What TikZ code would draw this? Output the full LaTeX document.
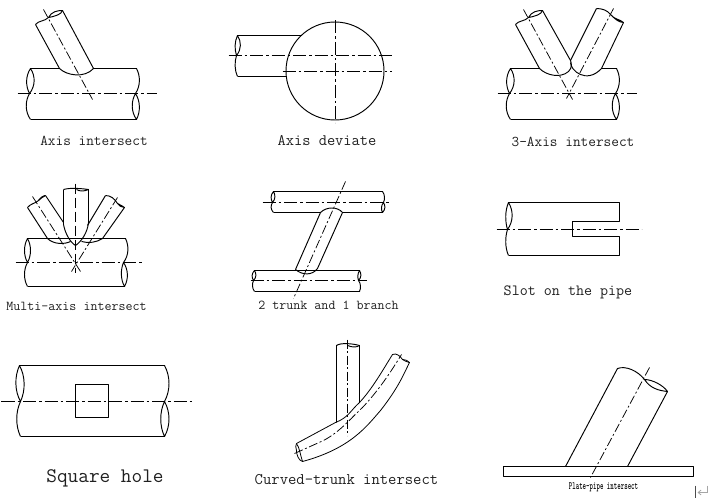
\documentclass[tikz,border=0pt]{standalone}
\usepackage{graphicx}
\usetikzlibrary{arrows.meta}
\definecolor{lbl}{HTML}{202020}
\tikzset{
  ln/.style={draw=black,line width=0.95pt,line join=round},
  thin ln/.style={draw=black,line width=0.8pt,line join=round},
  axis/.style={draw=black,line width=0.8pt,dash pattern=on 13pt off 3pt on 2.5pt off 3pt},
  axis short/.style={draw=black,line width=0.75pt,dash pattern=on 9pt off 2.5pt on 2pt off 2.5pt},
  axis long/.style={draw=black,line width=0.8pt,dash pattern=on 10pt off 4pt},
  caption/.style={text=lbl,inner sep=0pt,font=\fontsize{#1}{#1}\selectfont\ttfamily}
}
% lens between (#1,#2) and (#3,#4), control abscissae #5 and #6
\newcommand\plens[6]{\draw[ln] (#1,#2) .. controls (#5,{#2+(#4-#2)*0.3}) and (#5,{#2+(#4-#2)*0.7}) .. (#3,#4)
   .. controls (#6,{#2+(#4-#2)*0.7}) and (#6,{#2+(#4-#2)*0.3}) .. cycle;}
\newcommand\pbow[5]{\draw[ln] (#1,#2) .. controls (#5,{#2+(#4-#2)*0.3}) and (#5,{#2+(#4-#2)*0.7}) .. (#3,#4);}
% the trunk shared by the first and third drawings
\newcommand\trunkA{%
  \plens{30}{68}{29}{93}{25}{35}
  \pbow{29}{93}{30}{119}{24.5}
  \pbow{136}{68}{135}{93}{140}
  \plens{135}{93}{136}{119}{130.5}{140}
  \draw[ln] (30,119) -- (136,119);
  \draw[axis] (17,93) -- (156,93);
}
\begin{document}
\begin{tikzpicture}[x=1pt,y=-1pt]
\useasboundingbox (-0.5,-0.5) rectangle (717.5,502.5);

% 1 Axis intersect
\begin{scope}
  \trunkA
  \draw[ln] (30,68) -- (59,68) (93,68) -- (136,68);
  \draw[ln] (35,24) -- (59,68) .. controls (66,75) and (84,78) .. (93,68) -- (62,10);
  \draw[ln] (35,24) .. controls (38,20) and (44,21) .. (48,17);
  \draw[ln] (48,17) .. controls (51,11) and (57,10) .. (62,10) .. controls (61,14) and (54,16) .. cycle;
  \draw[axis short] (43,9) -- (92,99);
\end{scope}
\node[caption=14.9] (t1) at (93.5,140) {Axis intersect};

% 2 Axis deviate
\draw[ln] (334.5,70.5) circle (49);
\draw[ln] (301,35) -- (237,35) (286,76) -- (237,76);
\plens{237}{35}{236}{55}{234}{241}
\pbow{236}{55}{237}{76}{234}
\draw[axis] (228,55) -- (394,55);
\draw[axis] (282,71) -- (391,71);
\draw[axis] (334.5,20) -- (334.5,122);
\node[caption=16] (t2) at (326.5,140) {Axis deviate};

% 3 3-Axis intersect
\begin{scope}[xshift=480pt]
  \trunkA
  \draw[ln] (30,68) -- (59,68) (121,68) -- (136,68);
  \draw[ln] (35,24) -- (59,68) .. controls (66,75) and (80,78) .. (88,71) .. controls (92,67) and (91,63) .. (90,60) -- (62,10);
  \draw[ln] (35,24) .. controls (38,20) and (44,21) .. (48,17);
  \draw[ln] (48,17) .. controls (51,11) and (57,10) .. (62,10) .. controls (61,14) and (54,16) .. cycle;
  \draw[ln] (116,8) -- (90,60) (90,62) .. controls (90,70) and (106,84) .. (121,68) -- (143,22);
  \draw[ln] (116,8) .. controls (122,8) and (127,10) .. (130,14);
  \draw[ln] (130,14) .. controls (134,19) and (140,19) .. (143,22) .. controls (138,22) and (134,18) .. cycle;
  \draw[axis short] (43,9) -- (92,99);
  \draw[axis short] (133,8) -- (86,98);
\end{scope}
\node[caption=14.9] (t3) at (572.5,141) {3-Axis intersect};

% 4 Multi-axis intersect
\plens{27}{238}{27}{262}{23}{31}
\pbow{27}{262}{27}{286}{23}
\pbow{125}{238}{123}{262}{128.5}
\plens{123}{262}{124}{286}{120}{128}
\draw[ln] (27,238) -- (125,238);
\draw[ln] (27,286) -- (124,286);
\draw[axis] (15,262) -- (143,262);
\draw[ln] (27,207) -- (47,238) .. controls (53,244) and (64,244) .. (70,241);
\draw[ln] (45,195) -- (63,222);
\draw[ln] (27,207) .. controls (30,203) and (35,203) .. (38,200) .. controls (40,197) and (43,195) .. (45,195);
\draw[ln] (38,200) .. controls (40,197) and (43,197) .. (45,195);
\draw[ln] (124,207) -- (102,238) .. controls (96,242) and (88,243) .. (81,241);
\draw[ln] (105,195) -- (87,225);
\draw[ln] (105,195) .. controls (110,195) and (114,198) .. (117,203);
\draw[ln] (117,203) .. controls (120,205) and (122,205) .. (124,207) .. controls (121,207) and (118,205) .. cycle;
\draw[ln] (63,189) -- (63,224) .. controls (65,234) and (70,242) .. (75,245) .. controls (81,241) and (87,232) .. (88,222) -- (88,189);
\draw[ln] (63,189) .. controls (70,187) and (81,188) .. (88,189) .. controls (84,191) and (79,191) .. (76,189);
\draw[axis long] (75,183) -- (75,272);
\draw[axis short] (32,196) -- (80,271);
\draw[axis short] (117,197) -- (71,271);
\node[caption=13.6] (t4) at (76,306) {Multi-axis intersect};

% 5 2 trunk and 1 branch
\draw[ln] (273,191) -- (382,191) (273,212) -- (320,212) (342,212) -- (382,212);
\plens{273}{191}{272}{202}{270}{275}
\pbow{272}{202}{273}{212}{270}
\pbow{382}{191}{383}{202}{384.5}
\plens{383}{202}{382}{212}{380.5}{385}
\draw[axis] (262,202) -- (389,202);
\draw[ln] (254,270) -- (359,270) (254,291) -- (359,291);
\plens{254}{270}{253}{280}{251}{256}
\pbow{253}{280}{254}{291}{251.5}
\plens{359}{270}{358}{280}{361}{357}
\pbow{358}{280}{359}{291}{360.5}
\draw[axis] (250,280) -- (366,280);
\draw[ln] (295,269) -- (320,212) .. controls (326,206) and (337,206) .. (342,212) -- (317,268) .. controls (312,275) and (302,275) .. (295,269);
\draw[axis short] (345,181) -- (293,298);
\node[caption=13.6] (t5) at (328,305) {2 trunk and 1 branch};

% 6 Slot on the pipe
\draw[ln] (508,202) -- (619,202) -- (619,221) -- (572,221) -- (572,236) -- (619,236) -- (619,255) -- (508,255);
\plens{508}{202}{507}{229}{504.5}{513}
\pbow{507}{229}{508}{255}{504.5}
\draw[axis] (496,229) -- (641,229);
\node[caption=15.6] (t6) at (567.5,292) {Slot on the pipe};

% 7 Square hole
\draw[ln] (19,365) -- (164,365) (20,436) -- (164,436);
\plens{19}{365}{20}{401}{14}{25}
\pbow{20}{401}{20}{436}{15}
\pbow{164}{365}{164}{401}{170}
\plens{164}{401}{164}{436}{159}{170}
\draw[ln] (75,384) rectangle (108,417);
\draw[axis] (1,401) -- (193,401);
\node[caption=20.7] (t7) at (104.5,478) {Square hole};

% 8 Curved-trunk intersect
\draw[ln] (336,422) -- (336,345) .. controls (340,342) and (352,343) .. (359,345) -- (359,402);
\draw[ln] (347,345) .. controls (352,347) and (356,347) .. (359,345);
\draw[axis short] (347,339) -- (347,435);
\draw[thin ln] (296,443) -- (335,422) .. controls (348,417) and (350,410) .. (359,402) .. controls (372,388) and (382,370) .. (392,354) .. controls (396,352) and (400,356) .. (402,359) .. controls (405,359) and (407,360) .. (409,362) .. controls (403,374) and (398,387) .. (380,410) .. controls (366,426) and (350,448) .. (302,461) .. controls (298,460) and (296,454) .. (296,450) .. controls (295,447) and (295,445) .. (296,443);
\draw[thin ln] (296,443) .. controls (299,447) and (300,455) .. (302,461);
\draw[thin ln] (402,359) .. controls (404,361) and (407,361) .. (409,362);
\draw[axis short] (294,453) -- (323,440) .. controls (340,431) and (350,418) .. (362,407) .. controls (378,390) and (390,372) .. (401,354);
\node[caption=16.2] (t8) at (346,479) {Curved-trunk intersect};

% 9 Plate-pipe intersect
\draw[ln] (503,466) rectangle (693,476);
\draw[ln] (565,466) -- (617,368) .. controls (625,365) and (637,370) .. (644,379);
\draw[ln] (644,379) .. controls (652,379) and (663,385) .. (667,391) .. controls (658,390) and (650,388) .. cycle;
\draw[ln] (667,391) -- (627,466);
\draw[axis short] (649,367) -- (590,477);
\node[text=black,inner sep=0pt] (t9) at (603,487) {\scalebox{0.6}[1]{\fontsize{11}{11}\selectfont\ttfamily\bfseries Plate-pipe intersect}};

% paragraph mark
\draw[draw=black!70,line width=0.8pt] (695,485) -- (695,497);
\draw[draw=black!35,line width=0.8pt,-{Straight Barb[length=3pt,width=5pt]}] (707,485) -- (707,492) -- (697,492);
\end{tikzpicture}
\end{document}
